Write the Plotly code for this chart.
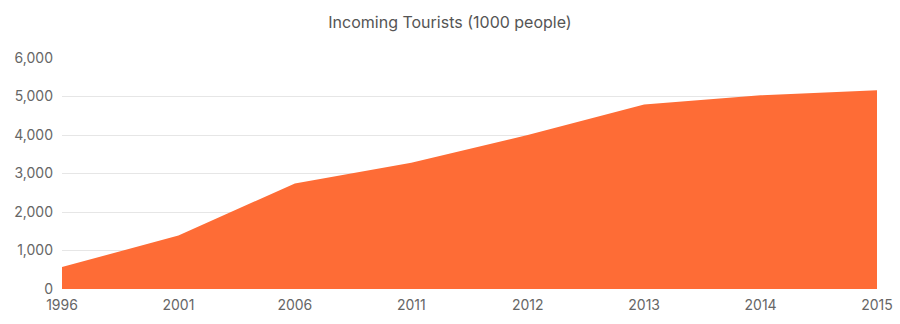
import plotly.graph_objects as go

years = ["1996", "2001", "2006", "2011", "2012", "2013", "2014", "2015"]
tourists = [570, 1390, 2740, 3280, 4000, 4790, 5030, 5160]

fig = go.Figure()
fig.add_trace(go.Scatter(
    x=years, y=tourists, mode="lines", fill="tozeroy",
    line=dict(color="#FE6C36", width=0),
    fillcolor="#FE6C36", hoverinfo="x+y", showlegend=False,
))

fig.update_layout(
    width=900, height=324,
    margin=dict(l=62, r=23, t=58, b=35),
    paper_bgcolor="white", plot_bgcolor="white",
    font=dict(family="Inter, Roboto, sans-serif", color="#666666", size=14),
    title=dict(text="Incoming Tourists (1000 people)", x=0.5, xanchor="center",
               y=0.932, yanchor="middle", yref="container",
               font=dict(size=16, color="#555555")),
    xaxis=dict(type="category", range=[0, 7], showgrid=False, zeroline=False,
               showline=False, ticks="", automargin=False, ticklabelstandoff=6,
               tickfont=dict(size=14, color="#666666")),
    yaxis=dict(range=[0, 6000], dtick=1000, tickformat=",", showgrid=True,
               gridcolor="#e6e6e6", gridwidth=1, zeroline=False, showline=False,
               ticks="", automargin=False, ticklabelstandoff=8,
               tickfont=dict(size=14, color="#666666")),
)

fig.write_html("out.html")
